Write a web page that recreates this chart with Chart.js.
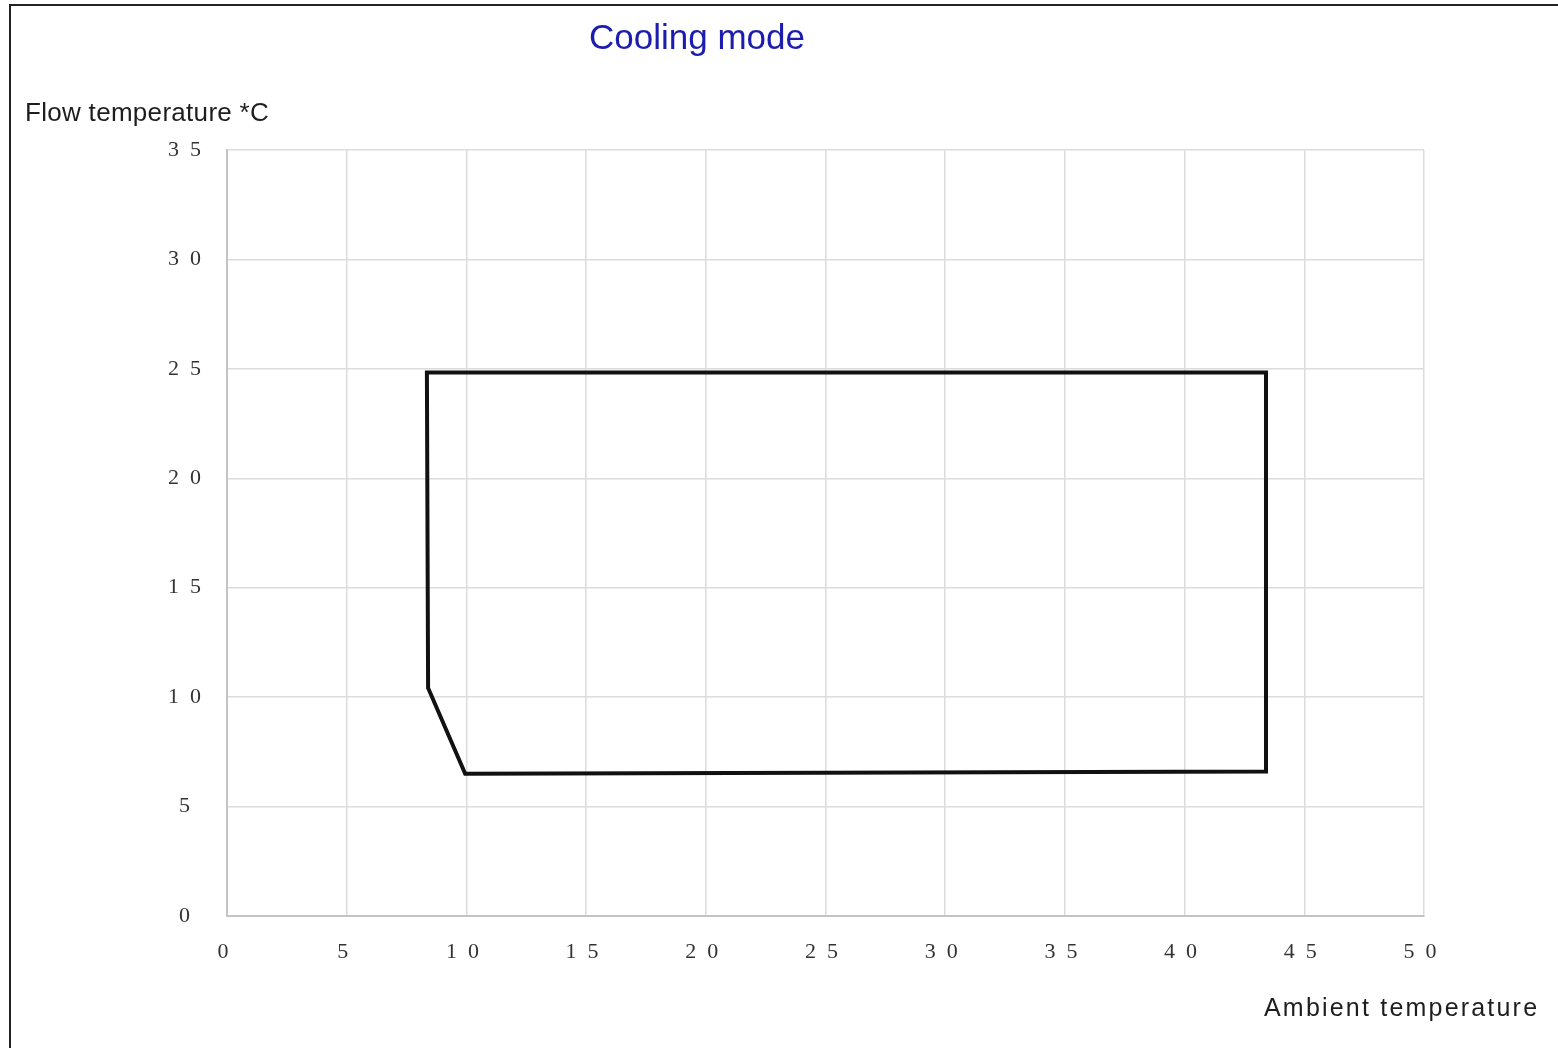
<!DOCTYPE html>
<html>
<head>
<meta charset="utf-8">
<script src="https://cdn.jsdelivr.net/npm/chart.js@4.4.1/dist/chart.umd.min.js"></script>
<style>
  html, body { margin: 0; padding: 0; background: #fff; }
  #wrap { position: relative; width: 1558px; height: 1048px; overflow: hidden; }
  #frame { position: absolute; left: 9px; top: 4px; right: -4px; bottom: -4px; border-left: 2px solid #222; border-top: 2px solid #222; }
  canvas { position: absolute; left: 0; top: 0; }
  .lbl { position: absolute; font-family: "Liberation Sans", Arial, sans-serif; color: #1e1e1e; white-space: nowrap; }
  #title { left: 0; width: 1394px; top: 17px; text-align: center; font-size: 35px; color: #1c1cae; }
  #ytitle { left: 25px; top: 97px; font-size: 26px; letter-spacing: 0.3px; }
  #xtitle { left: 1264px; top: 993px; font-size: 25px; letter-spacing: 2.2px; }
</style>
</head>
<body>
<div id="wrap">
  <div id="frame"></div>
  <canvas id="chart" width="1558" height="1048"></canvas>
  <div class="lbl" id="title">Cooling mode</div>
  <div class="lbl" id="ytitle">Flow temperature *C</div>
  <div class="lbl" id="xtitle">Ambient temperature</div>
</div>
<script>
// operating envelope outline (ambient temp, flow temp)
const envelopeX = [8.35, 8.4, 9.95, 43.4, 43.4, 8.35];
const envelopeY = [24.83, 10.42, 6.5, 6.6, 24.83, 24.83];

const xTickLabels = ["0", "5", "1\u20020", "1\u20025", "2\u20020", "2\u20025", "3\u20020", "3\u20025", "4\u20020", "4\u20025", "5\u20020"];
const yTickLabels = ["0", "5", "1\u20020", "1\u20025", "2\u20020", "2\u20025", "3\u20020", "3\u20025"];

const points = envelopeX.map((x, i) => ({ x, y: envelopeY[i] }));
const tickFont = { family: "'Liberation Serif', 'DejaVu Serif', serif", size: 22 };

new Chart(document.getElementById("chart"), {
  type: "scatter",
  data: {
    datasets: [{
      data: points,
      showLine: true,
      borderColor: "#111",
      borderWidth: 4,
      pointRadius: 0,
      tension: 0,
      borderJoinStyle: "miter",
      borderCapStyle: "square",
      fill: false,
    }],
  },
  options: {
    responsive: false,
    animation: false,
    devicePixelRatio: 1,
    layout: { padding: { top: 150, right: 134, left: 0, bottom: 0 } },
    plugins: { legend: { display: false }, tooltip: { enabled: false }, title: { display: false } },
    scales: {
      x: {
        type: "linear",
        min: 0,
        max: 50,
        afterFit: (s) => { s.height = 132; },
        ticks: {
          stepSize: 5,
          color: "#333",
          font: tickFont,
          padding: 23,
          labelOffset: -4,
          maxRotation: 0,
          callback: (v) => xTickLabels[Math.round(v / 5)],
        },
        grid: { color: "#dcdcdc", lineWidth: 1.5, drawTicks: false },
        border: { color: "#c4c4c4", width: 2 },
      },
      y: {
        type: "linear",
        min: 0,
        max: 35,
        afterFit: (s) => { s.width = 227; },
        ticks: {
          stepSize: 5,
          color: "#333",
          font: tickFont,
          padding: 26,
          crossAlign: "center",
          callback: (v) => yTickLabels[Math.round(v / 5)],
        },
        grid: { color: "#dcdcdc", lineWidth: 1.5, drawTicks: false },
        border: { color: "#c4c4c4", width: 2 },
      },
    },
  },
});
</script>
</body>
</html>
